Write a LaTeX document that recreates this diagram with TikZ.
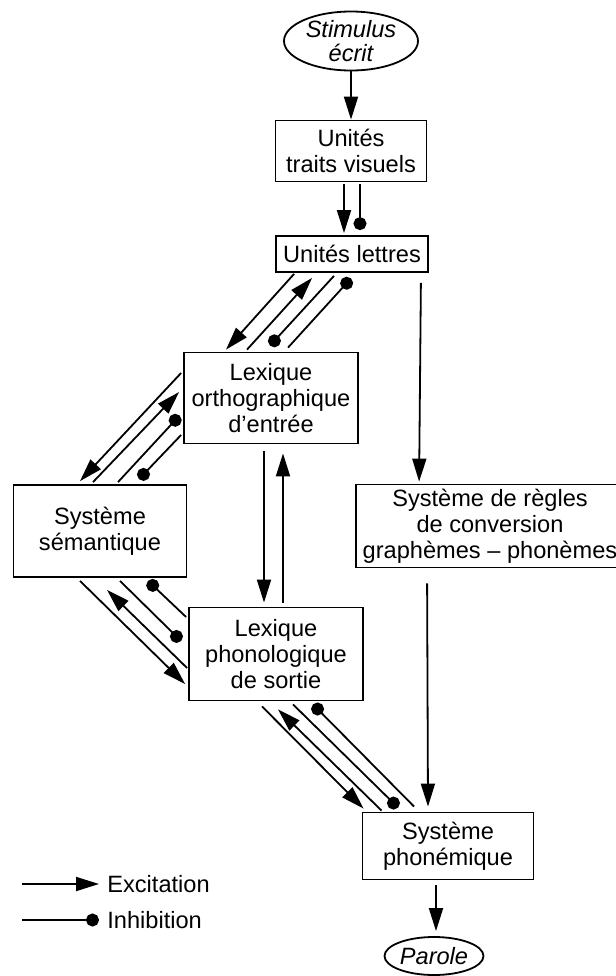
\documentclass[tikz,border=0pt]{standalone}
\usepackage{fontspec}
\setmainfont{Liberation Sans}
\usetikzlibrary{calc,arrows.meta,shapes.geometric}
\newcommand{\TipLength}{11.5pt}
\newcommand{\TipWidth}{7pt}
\newcommand{\DotSize}{6.5pt}
\newcommand{\LineW}{0.9pt}

\begin{document}
\begin{tikzpicture}[x=0.5pt,y=-0.5pt,
  every node/.style={font=\fontsize{11.8}{13}\selectfont},
  box/.style={draw, line width=\LineW, align=center, inner sep=2pt},
  oval/.style={draw, ellipse, line width=\LineW, align=center, inner sep=0pt,
    font=\fontsize{11.8}{12}\selectfont\itshape},
  exc/.style={line width=\LineW, -{Triangle[length=\TipLength, width=\TipWidth]}},
  inh/.style={line width=\LineW, -{Circle[length=\DotSize]}},
  legend/.style={anchor=west, inner sep=4pt}
]
\useasboundingbox (0,0) rectangle (616,976);

% ----- Modules -----
\node[oval, minimum width=67pt, minimum height=29.5pt] (stim) at (351,41) {Stimulus\\écrit};
\node[box, minimum width=75.5pt, minimum height=30.5pt] (traits) at (351,151) {Unités\\traits visuels};
\node[box, minimum width=76pt, minimum height=18pt] (lettres) at (352,254) {Unités lettres};
\node[box, minimum width=87pt, minimum height=45.5pt] (ortho) at (271,398) {Lexique\\orthographique\\d’entrée};
\node[box, minimum width=86.5pt, minimum height=46pt] (sem) at (100,531) {Système\\sémantique};
\node[box, minimum width=87pt, minimum height=46.5pt] (phono) at (276,654) {Lexique\\phonologique\\de sortie};
\node[box, minimum width=134pt, minimum height=41.5pt] (regles) at (490,526) {Système de règles\\de conversion\\graphèmes – phonèmes};
\node[box, minimum width=85.5pt, minimum height=33.5pt] (phonem) at (448,846) {Système\\phonémique};
\node[oval, minimum width=49.5pt, minimum height=19pt] (parole) at (434,956) {Parole};

% ----- Main chain -----
\draw[exc] (stim) -- (traits);
\draw[exc] ($(traits.south)+(-7,2)$) -- ($(lettres.north)+(-8,-2)$);
\draw[inh] ($(traits.south)+(9,2)$) -- ($(lettres.north)+(8,-5)$);
\draw[exc] ($(lettres.south east)+(-8,10)$) -- ($(regles.north west)+(64,-2)$);
\draw[exc] ($(regles.south west)+(72,15)$) -- ($(phonem.north)+(-20,-5)$);
\draw[exc] ($(phonem.south)+(-12,5)$) -- ($(parole.north)+(2,-5)$);

% Unites lettres <-> lexique orthographique
\draw[exc] ($(lettres.south west)+(19,1)$) -- ($(ortho.north)+(-45,-2)$);
\draw[exc] ($(ortho.north)+(-24,-2)$) -- ($(lettres.south west)+(37,5)$);
\draw[inh] ($(lettres.south)+(-18,3)$) -- ($(ortho.north)+(-1,-6)$);
\draw[inh] ($(ortho.north)+(17,-4)$) -- ($(lettres.south)+(-1,5.5)$);

% Lexique orthographique <-> systeme semantique
\draw[exc] ($(ortho.west)+(-2,-25)$) -- ($(sem.north)+(-20,-3)$);
\draw[exc] ($(sem.north)+(-7,-2)$) -- ($(ortho.west)+(-4,-6)$);
\draw[inh] ($(sem.north)+(18,-2)$) -- ($(ortho.west)+(-3.5,17.5)$);
\draw[inh] ($(ortho.west)+(-2,37)$) -- ($(sem.north)+(39,-5)$);

% Systeme semantique <-> lexique phonologique
\draw[exc] ($(sem.south)+(-20,3)$) -- ($(phono.west)+(-3,30)$);
\draw[exc] ($(phono.west)+(-1,14)$) -- ($(sem.south)+(7,12)$);
\draw[inh] ($(sem.south)+(20,3)$) -- ($(phono.west)+(-7,-13)$);
\draw[inh] ($(phono.west)+(-2,-37)$) -- ($(sem.south)+(48,3)$);

% Lexique orthographique <-> lexique phonologique
\draw[exc] ($(ortho.south)+(-7,7)$) -- ($(phono.north)+(-12,-4)$);
\draw[exc] ($(phono.north)+(7,-4)$) -- ($(ortho.south)+(12,9)$);

% Lexique phonologique <-> systeme phonemique
\draw[exc] ($(phono.south)+(-14,5)$) -- ($(phonem.north west)+(2,-3)$);
\draw[exc] ($(phonem.north west)+(20,-1)$) -- ($(phono.south)+(2,8)$);
\draw[inh] ($(phono.south)+(17,3)$) -- ($(phonem.north west)+(36.5,-4)$);
\draw[inh] ($(phonem.north west)+(52.5,-5)$) -- ($(phono.south)+(37,3)$);

% ----- Legend -----
\node[legend] (excit) at (99,884) {Excitation};
\coordinate (excitstart) at (22,884);
\draw[exc] (excitstart) -- (excit.west);
\node[legend] (inhib) at (99,920) {Inhibition};
\coordinate (inhibstart) at (22,920);
\draw[inh] (inhibstart) -- (inhib.west);

\end{tikzpicture}
\end{document}
